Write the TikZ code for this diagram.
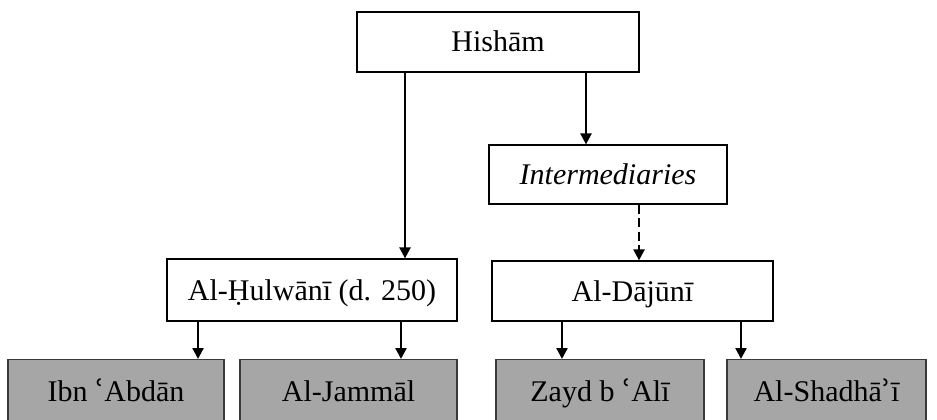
\documentclass[tikz,border=0pt]{standalone}
\usepackage{fontspec}
\setmainfont{Liberation Serif}
\newfontfamily\ringfont{DejaVu Serif}
\usetikzlibrary{arrows.meta}
\definecolor{boxgrey}{HTML}{A6A6A6}
\definecolor{edgegrey}{HTML}{3A3A3A}
\tikzset{
  namebox/.style={draw=black, line width=1.2pt, fill=white, inner sep=0pt,
    font=\fontsize{30}{36}\selectfont, text height=20pt, text depth=0pt},
  leafbox/.style={namebox, draw=edgegrey, fill=boxgrey, anchor=north},
  link/.style={line width=2.3pt, -{Triangle[length=11pt,width=11pt]}},
  dashlink/.style={link, dash pattern=on 9pt off 4.5pt}
}
\begin{document}
\begin{tikzpicture}[x=1pt,y=-1pt]
\useasboundingbox (0,0) rectangle (937,420);
\clip (0,0) rectangle (937,420);
% upper tier
\node[namebox, minimum width=282pt, minimum height=60pt] (hisham) at (498,42) {Hishām};
\node[namebox, minimum width=238pt, minimum height=59pt] (inter) at (608,174.5) {\itshape Intermediaries};
% middle tier
\node[namebox, minimum width=290pt, minimum height=62pt] (hulwani) at (312,290) {Al-Ḥulwānī (d. 250)};
\node[namebox, minimum width=281pt, minimum height=60pt] (dajuni) at (632.5,291) {Al-Dājūnī};
% lower tier, running off the foot of the page
\node[leafbox, minimum width=216pt, minimum height=64pt] (ibn) at (116,359) {Ibn {\ringfont ʿ}Abdān};
\node[leafbox, minimum width=217pt, minimum height=64pt] (jammal) at (348.5,359) {Al-Jammāl};
\node[leafbox, minimum width=208pt, minimum height=64pt] (zayd) at (600,359) {Zayd b {\ringfont ʿ}Alī};
\node[leafbox, minimum width=199pt, minimum height=64pt] (shadhai) at (826.5,359) {Al-Shadhā{\ringfont ʾ}ī};
% connectors
\draw[link] ([xshift=-93pt]hisham.south) -- ([xshift=93pt]hulwani.north);
\draw[link] ([xshift=88pt]hisham.south) -- ([xshift=-22pt]inter.north);
\draw[dashlink] ([xshift=31pt]inter.south) -- ([xshift=6.5pt]dajuni.north);
\draw[link] ([xshift=-114pt]hulwani.south) -- ([xshift=82pt]ibn.north);
\draw[link] ([xshift=89pt]hulwani.south) -- ([xshift=52.5pt]jammal.north);
\draw[link] ([xshift=-70.5pt]dajuni.south) -- ([xshift=-38pt]zayd.north);
\draw[link] ([xshift=108.5pt]dajuni.south) -- ([xshift=-85.5pt]shadhai.north);
\end{tikzpicture}
\end{document}
